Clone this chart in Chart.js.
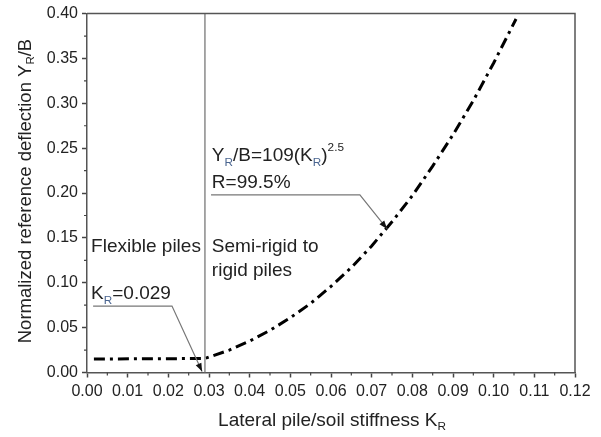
<!DOCTYPE html>
<html>
<head>
<meta charset="utf-8">
<script src="https://cdn.jsdelivr.net/npm/chart.js@4/dist/chart.umd.min.js"></script>
<style>
  html, body { margin: 0; padding: 0; background: #fff; }
  #wrap { width: 601px; height: 437px; }
</style>
</head>
<body>
<div id="wrap"><canvas id="chart"></canvas></div>
<script>
// Values
const kFit = [0.0017, 0.029, 0.035, 0.040, 0.045, 0.050, 0.055, 0.060, 0.065, 0.070, 0.075, 0.080, 0.085, 0.090, 0.095, 0.100, 0.1055];
const yFit = [0.015, 0.0156, 0.025, 0.035, 0.047, 0.061, 0.077, 0.096, 0.117, 0.141, 0.168, 0.197, 0.230, 0.265, 0.303, 0.345, 0.394];
const kBoundary = [0.029, 0.029];
const yBoundary = [0.0, 0.40];
const xTicks = [0.00, 0.01, 0.02, 0.03, 0.04, 0.05, 0.06, 0.07, 0.08, 0.09, 0.10, 0.11, 0.12];
const yTicks = [0.00, 0.05, 0.10, 0.15, 0.20, 0.25, 0.30, 0.35, 0.40];

const FONT = '"Liberation Sans", Arial, sans-serif';
const INK = '#222';
const SUBC = '#4a6590';

function pts(xs, ys) { return xs.map((x, i) => ({ x: x, y: ys[i] })); }

// draw a run of text pieces (normal / subscript / superscript)
function richText(ctx, parts, x, y, size, align) {
    let total = 0;
    parts.forEach(p => {
        ctx.font = (p.s ? size * 0.62 : size) + 'px ' + FONT;
        p.w = ctx.measureText(p.t).width;
        total += p.w;
    });
    let cx = align === 'center' ? x - total / 2 : x;
    parts.forEach(p => {
        ctx.font = (p.s ? size * 0.62 : size) + 'px ' + FONT;
        ctx.fillStyle = p.c || INK;
        let dy = 0;
        if (p.s === 'sub') dy = size * 0.28;
        if (p.s === 'sup') dy = -size * 0.5;
        ctx.fillText(p.t, cx, y + dy);
        cx += p.w;
    });
}

function arrowLine(ctx, path) {
    ctx.save();
    ctx.strokeStyle = '#777';
    ctx.lineWidth = 1.2;
    ctx.beginPath();
    path.forEach((p, i) => i ? ctx.lineTo(p[0], p[1]) : ctx.moveTo(p[0], p[1]));
    ctx.stroke();
    const a = path[path.length - 2], b = path[path.length - 1];
    const ang = Math.atan2(b[1] - a[1], b[0] - a[0]);
    ctx.fillStyle = '#111';
    ctx.beginPath();
    ctx.moveTo(b[0], b[1]);
    ctx.lineTo(b[0] - 9 * Math.cos(ang - 0.35), b[1] - 9 * Math.sin(ang - 0.35));
    ctx.lineTo(b[0] - 9 * Math.cos(ang + 0.35), b[1] - 9 * Math.sin(ang + 0.35));
    ctx.closePath();
    ctx.fill();
    ctx.restore();
}

const decorations = {
    id: 'decorations',
    afterDraw(chart) {
        const ctx = chart.ctx, xs = chart.scales.x, ys = chart.scales.y, area = chart.chartArea;
        const px = v => xs.getPixelForValue(v), py = v => ys.getPixelForValue(v);
        ctx.save();
        // frame top / right
        ctx.strokeStyle = '#555';
        ctx.lineWidth = 1.5;
        ctx.beginPath();
        ctx.moveTo(area.left, area.top);
        ctx.lineTo(area.right, area.top);
        ctx.lineTo(area.right, area.bottom);
        ctx.stroke();
        // minor ticks
        ctx.strokeStyle = '#444';
        ctx.lineWidth = 1.2;
        ctx.beginPath();
        for (let i = 0; i < xTicks.length - 1; i++) {
            const x = px((xTicks[i] + xTicks[i + 1]) / 2);
            ctx.moveTo(x, area.bottom); ctx.lineTo(x, area.bottom + 3);
        }
        for (let i = 0; i < yTicks.length - 1; i++) {
            const y = py((yTicks[i] + yTicks[i + 1]) / 2);
            ctx.moveTo(area.left, y); ctx.lineTo(area.left - 3, y);
        }
        ctx.stroke();

        // axis titles
        ctx.textBaseline = 'middle';
        richText(ctx, [{ t: 'Lateral pile/soil stiffness K' }, { t: 'R', s: 'sub' }],
            (area.left + area.right) / 2 + 1, 421, 19, 'center');
        ctx.save();
        ctx.translate(26, (area.top + area.bottom) / 2 - 2);
        ctx.rotate(-Math.PI / 2);
        richText(ctx, [{ t: 'Normalized reference deflection Y' }, { t: 'R', s: 'sub' }, { t: '/B' }],
            0, 0, 18.5, 'center');
        ctx.restore();

        // region notes
        ctx.textBaseline = 'alphabetic';
        richText(ctx, [{ t: 'Flexible piles' }], px(0.0010), py(0.134), 19, 'left');
        richText(ctx, [{ t: 'Semi-rigid to' }], px(0.0307), py(0.134), 19, 'left');
        richText(ctx, [{ t: 'rigid piles' }], px(0.0307), py(0.107), 19, 'left');
        richText(ctx, [{ t: 'K' }, { t: 'R', s: 'sub', c: SUBC }, { t: '=0.029' }], px(0.0010), py(0.082), 19, 'left');
        richText(ctx, [{ t: 'Y' }, { t: 'R', s: 'sub', c: SUBC }, { t: '/B=109(K' }, { t: 'R', s: 'sub', c: SUBC }, { t: ')' }, { t: '2.5', s: 'sup' }],
            px(0.0307), py(0.236), 19, 'left');
        richText(ctx, [{ t: 'R=99.5%' }], px(0.0307), py(0.206), 19, 'left');

        arrowLine(ctx, [[px(0.0015), py(0.074)], [px(0.0209), py(0.074)], [px(0.0283), py(0.001)]]);
        arrowLine(ctx, [[px(0.0305), py(0.198)], [px(0.0671), py(0.198)], [px(0.0738), py(0.160)]]);
        ctx.restore();
    }
};

new Chart(document.getElementById('chart'), {
    type: 'scatter',
    data: {
        datasets: [
            {
                label: 'boundary',
                data: pts(kBoundary, yBoundary),
                showLine: true,
                borderColor: '#8a8a8a',
                borderWidth: 1.5,
                pointRadius: 0
            },
            {
                label: 'fit',
                data: pts(kFit, yFit),
                showLine: true,
                borderColor: '#000',
                borderWidth: 3,
                borderDash: [11, 5, 3, 5],
                pointRadius: 0
            }
        ]
    },
    options: {
        responsive: true,
        maintainAspectRatio: false,
        animation: false,
        events: [],
        layout: { padding: { top: 12, right: 26, left: 0, bottom: 0 } },
        plugins: { legend: { display: false }, tooltip: { enabled: false } },
        scales: {
            x: {
                type: 'linear',
                min: 0, max: 0.12,
                afterBuildTicks: s => { s.ticks = xTicks.map(v => ({ value: v })); },
                afterFit: s => { s.height = 64.5; },
                grid: { drawOnChartArea: false, tickLength: 5, tickWidth: 1.5, tickColor: '#444' },
                border: { color: '#555', width: 1.5 },
                ticks: {
                    padding: 4,
                    maxRotation: 0,
                    autoSkip: false,
                    color: INK,
                    font: { family: FONT, size: 16 },
                    callback: v => v.toFixed(2)
                }
            },
            y: {
                type: 'linear',
                min: 0, max: 0.40,
                afterBuildTicks: s => { s.ticks = yTicks.map(v => ({ value: v })); },
                afterFit: s => { s.width = 87; },
                grid: { drawOnChartArea: false, tickLength: 5, tickWidth: 1.5, tickColor: '#444' },
                border: { color: '#555', width: 1.5 },
                ticks: {
                    padding: 4,
                    autoSkip: false,
                    color: INK,
                    font: { family: FONT, size: 16 },
                    callback: v => v.toFixed(2)
                }
            }
        }
    },
    plugins: [decorations]
});
</script>
</body>
</html>
